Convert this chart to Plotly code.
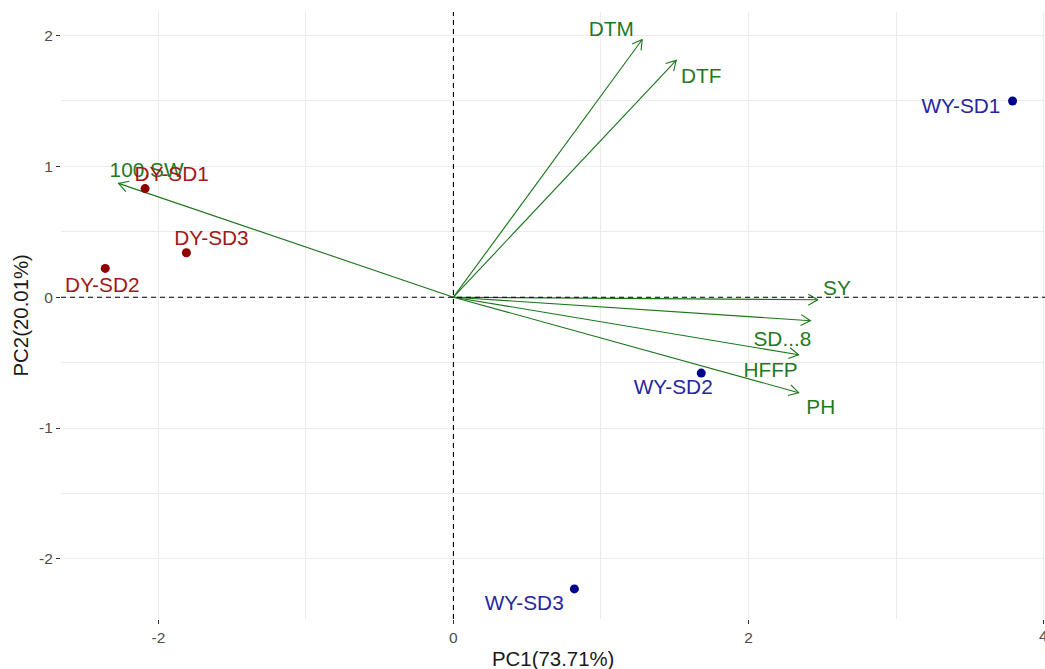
import math
import plotly.graph_objects as go

# ---- data ----
samples = ["DY-SD1", "DY-SD2", "DY-SD3", "WY-SD1", "WY-SD2", "WY-SD3"]
pc1 = [-2.09, -2.36, -1.81, 3.79, 1.68, 0.82]
pc2 = [0.83, 0.22, 0.34, 1.50, -0.58, -2.23]
group = ["DY", "DY", "DY", "WY", "WY", "WY"]
sample_label_x = [-1.91, -2.38, -1.64, 3.44, 1.49, 0.48]
sample_label_y = [0.93, 0.08, 0.44, 1.45, -0.70, -2.35]

variables = ["100.SW", "DTM", "DTF", "SY", "SD...8", "HFFP", "PH"]
var_x = [-2.27, 1.28, 1.51, 2.47, 2.42, 2.34, 2.34]
var_y = [0.87, 1.97, 1.81, -0.02, -0.18, -0.44, -0.73]
var_label_x = [-2.08, 1.07, 1.68, 2.60, 2.23, 2.15, 2.49]
var_label_y = [0.96, 2.04, 1.68, 0.06, -0.33, -0.57, -0.85]

x_ticks = [-2, 0, 2, 4]
y_ticks = [-2, -1, 0, 1, 2]

# ---- layout geometry ----
W, H = 1045, 669
ML, MR, MT, MB = 61, 0, 12, 50
xr = [-2.66, 4.01]
yr = [-2.46, 2.18]
sx = (W - ML - MR) / (xr[1] - xr[0])
sy = (H - MT - MB) / (yr[1] - yr[0])

FONT = "Liberation Sans, Arial, sans-serif"
LBL = 20.8
ARROW_COL = "#1a751a"
VAR_TXT = "#1f7a1f"
col_pt = {"DY": "#8B0000", "WY": "#00008B"}
col_txt = {"DY": "#A01818", "WY": "#2626A0"}
TICK_FONT = dict(family=FONT, size=15.5, color="#4D4D4D")

fig = go.Figure()

# arrows (shafts + open heads)
ax_, ay_ = [], []
L, ang = 11, math.radians(30)
for ex, ey in zip(var_x, var_y):
    ax_ += [0, ex, None]
    ay_ += [0, ey, None]
    dx, dy = ex * sx, ey * sy
    n = math.hypot(dx, dy)
    ux, uy = dx / n, dy / n
    hx, hy = [], []
    for s in (1, -1):
        c, si = math.cos(s * ang), math.sin(s * ang)
        rx = ux * c - uy * si
        ry = ux * si + uy * c
        hx.append(ex - L * rx / sx)
        hy.append(ey - L * ry / sy)
    ax_ += [hx[0], ex, hx[1], None]
    ay_ += [hy[0], ey, hy[1], None]
fig.add_trace(go.Scatter(x=ax_, y=ay_, mode="lines",
                         line=dict(color=ARROW_COL, width=1.1),
                         hoverinfo="skip", showlegend=False))

fig.add_trace(go.Scatter(x=var_label_x, y=var_label_y, mode="text", text=variables,
                         textposition="middle center",
                         textfont=dict(family=FONT, size=LBL, color=VAR_TXT),
                         cliponaxis=False, showlegend=False))

for g in ["DY", "WY"]:
    idx = [i for i, gg in enumerate(group) if gg == g]
    fig.add_trace(go.Scatter(x=[pc1[i] for i in idx], y=[pc2[i] for i in idx],
                             mode="markers",
                             marker=dict(color=col_pt[g], size=9),
                             showlegend=False))
    fig.add_trace(go.Scatter(x=[sample_label_x[i] for i in idx],
                             y=[sample_label_y[i] for i in idx],
                             mode="text", text=[samples[i] for i in idx],
                             textposition="middle center",
                             textfont=dict(family=FONT, size=LBL, color=col_txt[g]),
                             cliponaxis=False, showlegend=False))

# dashed reference lines
fig.add_shape(type="line", xref="x", yref="paper", x0=0, x1=0, y0=0, y1=1,
              line=dict(color="black", width=1.1, dash="5px,4px"), layer="above")
fig.add_shape(type="line", xref="paper", yref="y", x0=0, x1=1, y0=0, y1=0,
              line=dict(color="black", width=1.1, dash="5px,4px"), layer="above")

grid = "#EBEBEB"
fig.update_xaxes(range=xr, tickvals=x_ticks, ticktext=[str(v) for v in x_ticks],
                 showgrid=True, gridcolor=grid, gridwidth=1.3, zeroline=False,
                 ticks="outside", ticklen=4, tickcolor="#333333", tickwidth=1,
                 tickfont=TICK_FONT,
                 minor=dict(tickvals=[-1, 1, 3], showgrid=True, gridcolor=grid,
                            gridwidth=0.7, ticks=""),
                 showline=False, automargin=False)
fig.update_yaxes(range=yr, tickvals=y_ticks, ticktext=[str(v) for v in y_ticks],
                 showgrid=True, gridcolor=grid, gridwidth=1.3, zeroline=False,
                 ticks="outside", ticklen=4, tickcolor="#333333", tickwidth=1,
                 tickfont=TICK_FONT,
                 minor=dict(tickvals=[-1.5, -0.5, 0.5, 1.5], showgrid=True,
                            gridcolor=grid, gridwidth=0.7, ticks=""),
                 showline=False, automargin=False)

# edge tick label that plotly would otherwise drop
fig.add_annotation(text=str(x_ticks[-1]), xref="x", yref="paper", x=x_ticks[-1], y=0,
                   yanchor="top", yshift=-6, showarrow=False, font=TICK_FONT)

fig.add_annotation(text="PC1(73.71%)", xref="paper", yref="paper", x=0.5, y=0,
                   yanchor="middle", yshift=-40, showarrow=False,
                   font=dict(family=FONT, size=20.4, color="#1A1A1A"))
fig.add_annotation(text="PC2(20.01%)", xref="paper", yref="paper", x=0, y=0.5,
                   xanchor="center", xshift=-41, textangle=-90, showarrow=False,
                   font=dict(family=FONT, size=20.4, color="#1A1A1A"))

fig.update_layout(width=W, height=H, margin=dict(l=ML, r=MR, t=MT, b=MB),
                  plot_bgcolor="white", paper_bgcolor="white")

fig.write_html("out.html", config={"displayModeBar": False},
               post_script="document.body.style.margin='0';"
                           "document.body.style.overflow='hidden';")
